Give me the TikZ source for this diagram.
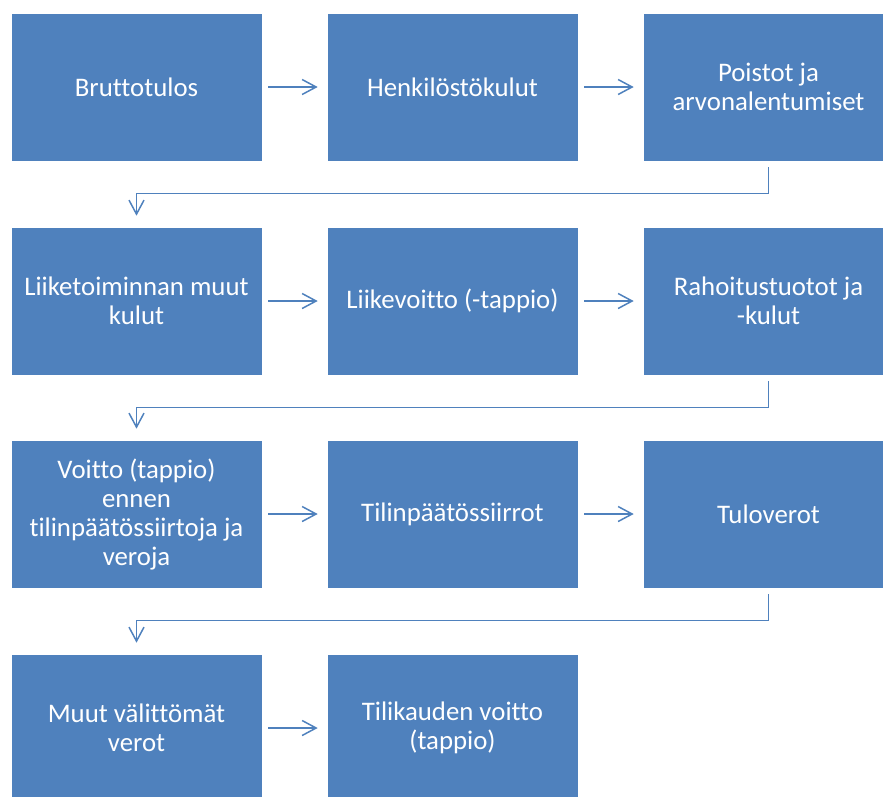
\documentclass[tikz,border=0pt]{standalone}
\usepackage{fontspec}
\setmainfont{Carlito}[Ligatures=CommonOff]
\usetikzlibrary{arrows.meta}
\definecolor{boxblue}{HTML}{4F81BD}
\tikzset{
  stepbox/.style={rectangle, fill=boxblue, draw=white, line width=0.6pt,
    minimum width=251pt, minimum height=148pt, inner sep=0pt,
    text=white, align=center, font=\fontsize{26.8}{29}\selectfont},
  flow/.style={draw=boxblue, line width=1.5pt,
    -{Straight Barb[length=14pt, width=15pt, line width=1.5pt]}}
}
\begin{document}
\begin{tikzpicture}[x=1pt, y=-1pt]
\useasboundingbox (0,0) rectangle (883,796);
\clip (0,0) rectangle (883,796);
% first row
\node[stepbox] (brutto) at (136.5,87) {Bruttotulos};
\node[stepbox] (henk) at (452.5,87) {Henkilöstökulut};
\node[stepbox] (poist) at (768.5,87) {Poistot ja\\arvonalentumiset};
% second row
\node[stepbox] (muutkulut) at (136.5,301) {Liiketoiminnan muut\\kulut};
\node[stepbox] (liikev) at (452.5,301) {Liikevoitto (-tappio)};
\node[stepbox] (rahoitus) at (768.5,301) {Rahoitustuotot ja\\-kulut};
% third row
\node[stepbox] (ennen) at (136.5,514) {Voitto (tappio)\\ennen\\tilinpäätössiirtoja ja\\veroja};
\node[stepbox] (siirrot) at (452.5,514) {Tilinpäätössiirrot};
\node[stepbox] (tulov) at (768.5,514) {Tuloverot};
% last row
\node[stepbox] (valitt) at (136.5,728) {Muut välittömät\\verot};
\node[stepbox] (tulos) at (452.5,728) {Tilikauden voitto\\(tappio)};
% arrows along the rows
\draw[flow, shorten <=6pt, shorten >=9pt] (brutto.east) -- (henk.west);
\draw[flow, shorten <=6pt, shorten >=9pt] (henk.east) -- (poist.west);
\draw[flow, shorten <=6pt, shorten >=9pt] (muutkulut.east) -- (liikev.west);
\draw[flow, shorten <=6pt, shorten >=9pt] (liikev.east) -- (rahoitus.west);
\draw[flow, shorten <=6pt, shorten >=9pt] (ennen.east) -- (siirrot.west);
\draw[flow, shorten <=6pt, shorten >=9pt] (siirrot.east) -- (tulov.west);
\draw[flow, shorten <=6pt, shorten >=9pt] (valitt.east) -- (tulos.west);
% down to the next row
\draw[flow, shorten <=6pt, shorten >=11pt] (poist.south) -- ++(0,32) -| (muutkulut.north);
\draw[flow, shorten <=6pt, shorten >=11pt] (rahoitus.south) -- ++(0,32) -| (ennen.north);
\draw[flow, shorten <=6pt, shorten >=11pt] (tulov.south) -- ++(0,32) -| (valitt.north);
\end{tikzpicture}
\end{document}
